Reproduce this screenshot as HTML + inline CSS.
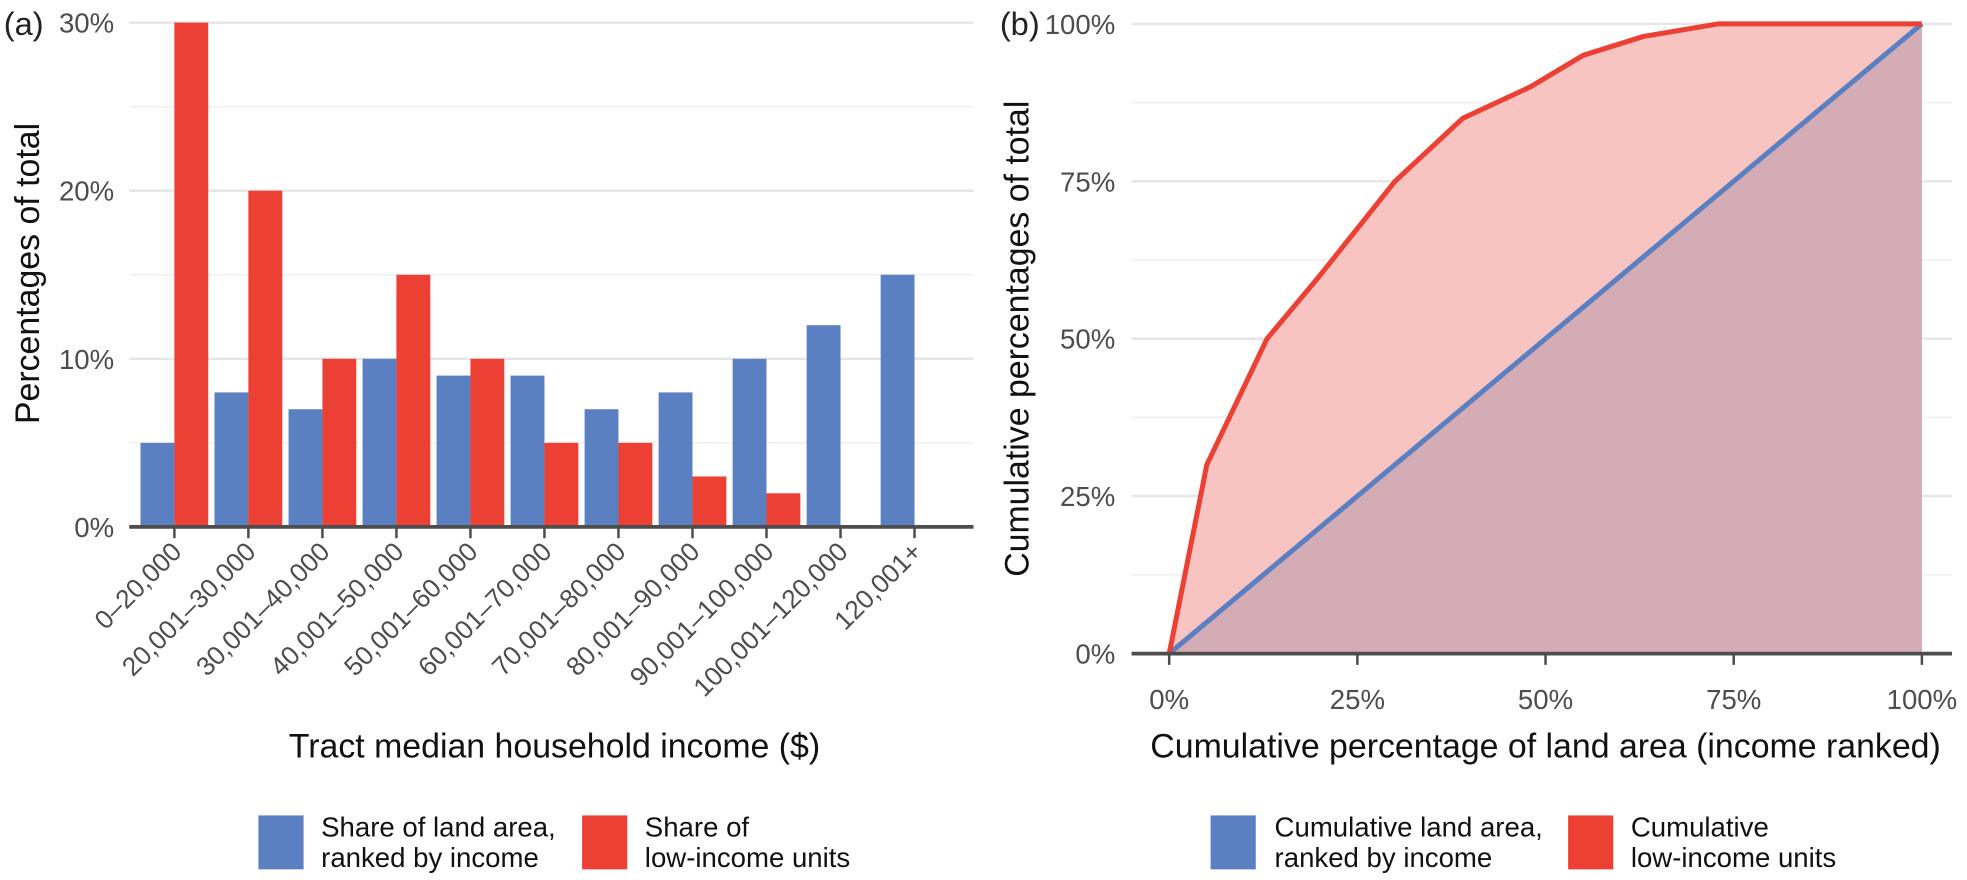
<!DOCTYPE html>
<html><head><meta charset="utf-8">
<style>
html,body{margin:0;padding:0;background:#fff;overflow:hidden;}
svg{display:block;font-family:"Liberation Sans",Arial,sans-serif;}
</style></head>
<body>
<svg id="chart" width="1967" height="880" viewBox="0 0 1967 880" xmlns="http://www.w3.org/2000/svg">
<g transform="scale(1.2545)">
<g id="pa"></g>
<g id="pb"></g>
</g>
</svg>
<script>
const categories = ["0–20,000","20,001–30,000","30,001–40,000","40,001–50,000","50,001–60,000","60,001–70,000","70,001–80,000","80,001–90,000","90,001–100,000","100,001–120,000","120,001+"];
const landShare = [5,8,7,10,9,9,7,8,10,12,15];
const lowIncomeShare = [30,20,10,15,10,5,5,3,2,0,0];
const yTicksA = [0,10,20,30];
const cumLandX = [0,100];
const cumLandY = [0,100];
const cumLowX = [0,5,13,20,30,39,48,55,63,73,100];
const cumLowY = [0,30,50,60,75,85,90,95,98,100,100];
const ticksB = [0,25,50,75,100];

const NS="http://www.w3.org/2000/svg";
const BLUE="#5b80c2", RED="#ec4034";
function mk(parent,tag,attrs,text){const e=document.createElementNS(NS,tag);for(const k in attrs)e.setAttribute(k,attrs[k]);if(text!==undefined)e.textContent=text;parent.appendChild(e);return e;}

// ---------- Panel A ----------
const pa=document.getElementById('pa');
const aL=103,aR=776,aY0=420,aY30=18;
const ya=v=>aY0-(aY0-aY30)*v/30;
const step=59;
const xa=i=>139+i*step;
const bw=27;
for(let v=0;v<=30;v+=5){
  const g=mk(pa,'line',{x1:aL,x2:aR,y1:ya(v),y2:ya(v),stroke:v%10===0?'#e6e6e6':'#f0f0f0','stroke-width':v%10===0?2:1.3});
  
  
}
yTicksA.forEach(v=>{
  const t=mk(pa,'text',{x:91,y:ya(v)+8,'text-anchor':'end','font-size':22,fill:'#4d4d4d'},v+'%');
  
  
});
categories.forEach((c,i)=>{
  const b=mk(pa,'rect',{x:xa(i)-bw,y:ya(landShare[i]),width:bw,height:aY0-ya(landShare[i]),fill:BLUE});
  
  
  const r=mk(pa,'rect',{x:xa(i),y:ya(lowIncomeShare[i]),width:bw,height:aY0-ya(lowIncomeShare[i]),fill:RED});
  
  
  const tk=mk(pa,'line',{x1:xa(i),x2:xa(i),y1:aY0,y2:aY0+9,stroke:'#4d4d4d','stroke-width':2});
  
  
  const lb=mk(pa,'text',{x:0,y:0,'text-anchor':'end','font-size':21,fill:'#4d4d4d',transform:`translate(${xa(i)+7},${aY0+21}) rotate(-45)`},c);
  
  
});
const axa=mk(pa,'line',{x1:aL,x2:aR,y1:aY0,y2:aY0,stroke:'#4d4d4d','stroke-width':3});


mk(pa,'text',{x:3,y:28,'font-size':26,fill:'#222',},'(a)');
mk(pa,'text',{x:0,y:0,'text-anchor':'middle','font-size':27,fill:'#111',transform:'translate(31,218) rotate(-90)',},'Percentages of total');
mk(pa,'text',{x:442,y:604,'text-anchor':'middle','font-size':27,fill:'#111',},'Tract median household income ($)');
// legend a
mk(pa,'rect',{x:206,y:650,width:36,height:43,fill:BLUE,});
mk(pa,'text',{x:256,y:667,'font-size':22,fill:'#111',},'Share of land area,');
mk(pa,'text',{x:256,y:691,'font-size':22,fill:'#111',},'ranked by income');
mk(pa,'rect',{x:464,y:650,width:36,height:43,fill:RED,});
mk(pa,'text',{x:514,y:667,'font-size':22,fill:'#111',},'Share of');
mk(pa,'text',{x:514,y:691,'font-size':22,fill:'#111',},'low-income units');

// ---------- Panel B ----------
const pb=document.getElementById('pb');
const bL=902,bR=1556,bX0=932,bX100=1532,bY0=521,bY100=19;
const xb=v=>bX0+(bX100-bX0)*v/100;
const yb=v=>bY0+(bY100-bY0)*v/100;
for(let v=0;v<=100;v+=12.5){
  const g=mk(pb,'line',{x1:bL,x2:bR,y1:yb(v),y2:yb(v),stroke:v%25===0?'#e6e6e6':'#f0f0f0','stroke-width':v%25===0?2:1.3});
  
  
}
let redPts=cumLowX.map((x,i)=>xb(x)+','+yb(cumLowY[i])).join(' ');
const redArea=mk(pb,'polygon',{points:redPts+` ${xb(cumLowX[cumLowX.length-1])},${yb(0)} ${xb(cumLowX[0])},${yb(0)}`,fill:'#f7c4c2'});


let bluePts=cumLandX.map((x,i)=>xb(x)+','+yb(cumLandY[i])).join(' ');
const blueArea=mk(pb,'polygon',{points:bluePts+` ${xb(cumLandX[cumLandX.length-1])},${yb(0)} ${xb(cumLandX[0])},${yb(0)}`,fill:'#d4acb5'});


const bl=mk(pb,'polyline',{points:bluePts,fill:'none',stroke:BLUE,'stroke-width':4});


const rl=mk(pb,'polyline',{points:redPts,fill:'none',stroke:RED,'stroke-width':4,'stroke-linejoin':'round'});


ticksB.forEach(v=>{
  const t=mk(pb,'text',{x:889,y:yb(v)+8,'text-anchor':'end','font-size':22,fill:'#4d4d4d'},v+'%');
  
  
  const tk=mk(pb,'line',{x1:xb(v),x2:xb(v),y1:bY0,y2:bY0+9,stroke:'#4d4d4d','stroke-width':2});
  
  
  const u=mk(pb,'text',{x:xb(v),y:565,'text-anchor':'middle','font-size':22,fill:'#4d4d4d'},v+'%');
  
  
});
const axb=mk(pb,'line',{x1:bL,x2:bR,y1:bY0,y2:bY0,stroke:'#4d4d4d','stroke-width':3});


mk(pb,'text',{x:797,y:28,'font-size':26,fill:'#222',},'(b)');
mk(pb,'text',{x:0,y:0,'text-anchor':'middle','font-size':27,fill:'#111',transform:'translate(820,270) rotate(-90)',},'Cumulative percentages of total');
mk(pb,'text',{x:1232,y:604,'text-anchor':'middle','font-size':27,fill:'#111',},'Cumulative percentage of land area (income ranked)');
mk(pb,'rect',{x:965,y:650,width:36,height:43,fill:BLUE,});
mk(pb,'text',{x:1016,y:667,'font-size':22,fill:'#111',},'Cumulative land area,');
mk(pb,'text',{x:1016,y:691,'font-size':22,fill:'#111',},'ranked by income');
mk(pb,'rect',{x:1250,y:650,width:36,height:43,fill:RED,});
mk(pb,'text',{x:1300,y:667,'font-size':22,fill:'#111',},'Cumulative');
mk(pb,'text',{x:1300,y:691,'font-size':22,fill:'#111',},'low-income units');
</script>
</body></html>
